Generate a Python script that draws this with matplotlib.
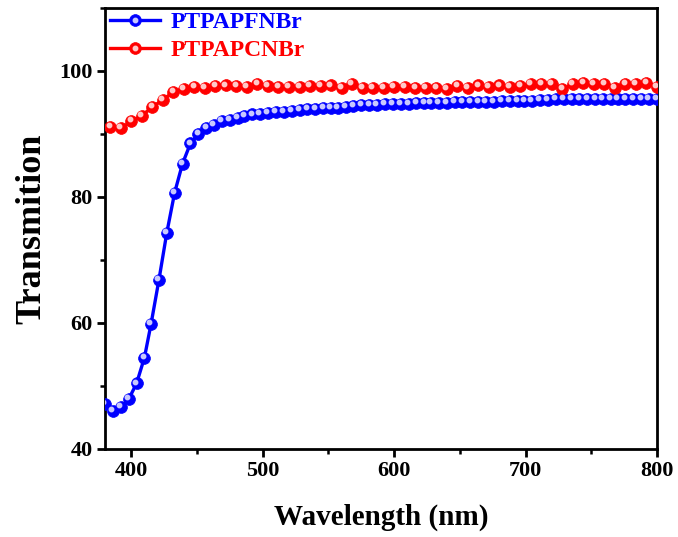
import matplotlib
matplotlib.use("Agg")
import matplotlib.pyplot as plt
import matplotlib.transforms as mtransforms
from matplotlib.legend_handler import HandlerTuple
from matplotlib.ticker import MultipleLocator

# ---- data ----
wl_pf = [380, 386, 392, 398, 404, 410, 415, 421, 427, 433, 439, 445, 451, 457, 463, 469,
         475, 481, 486, 492, 498, 504, 510, 516, 522, 528, 534, 540, 546, 552, 557, 563,
         569, 575, 581, 587, 593, 599, 605, 611, 617, 623, 628, 634, 640, 646, 652, 658,
         664, 670, 676, 682, 688, 694, 699, 705, 711, 717, 723, 729, 735, 741, 747, 753,
         759, 765, 770, 776, 782, 788, 794, 800]
t_pf = [47.1, 46.1, 46.6, 47.9, 50.4, 54.5, 59.8, 66.8, 74.3, 80.7, 85.3, 88.5, 90.0, 90.9,
        91.5, 92.1, 92.3, 92.6, 92.9, 93.1, 93.2, 93.4, 93.5, 93.5, 93.7, 93.8, 93.9, 94.0,
        94.1, 94.2, 94.1, 94.3, 94.4, 94.55, 94.55, 94.6, 94.8, 94.8, 94.8, 94.8, 95.0, 95.0,
        95.0, 95.0, 95.0, 95.1, 95.1, 95.1, 95.1, 95.1, 95.1, 95.3, 95.3, 95.3, 95.3, 95.3,
        95.4, 95.4, 95.5, 95.5, 95.5, 95.5, 95.5, 95.5, 95.5, 95.5, 95.6, 95.6, 95.5, 95.6,
        95.6, 95.6]

wl_pc = [384, 392, 400, 408, 416, 424, 432, 440, 448, 456, 464, 472, 480, 488, 496, 504,
         512, 520, 528, 536, 544, 552, 560, 568, 576, 584, 592, 600, 608, 616, 624, 632,
         640, 648, 656, 664, 672, 680, 688, 696, 704, 712, 720, 728, 736, 744, 752, 760,
         768, 776, 784, 792, 800]
t_pc = [91.1, 90.9, 92.0, 92.9, 94.3, 95.4, 96.7, 97.2, 97.5, 97.3, 97.6, 97.7, 97.6, 97.5,
        97.9, 97.6, 97.5, 97.5, 97.5, 97.6, 97.6, 97.7, 97.35, 97.9, 97.35, 97.35, 97.35,
        97.5, 97.5, 97.35, 97.35, 97.35, 97.2, 97.6, 97.35, 97.7, 97.5, 97.7, 97.5, 97.6,
        97.9, 98.0, 97.9, 97.1, 97.9, 98.1, 97.9, 98.0, 97.35, 98.0, 97.9, 98.1, 97.5]

labels = ["PTPAPFNBr", "PTPAPCNBr"]
colors = ["#0000ff", "#ff0000"]
highlights = ["#c8c8ff", "#ffc8c8"]
x_ticks = [400, 500, 600, 700, 800]
y_ticks = [40, 60, 80, 100]

serif = ["Liberation Serif", "DejaVu Serif"]
plt.rcParams["font.family"] = serif
plt.rcParams["font.weight"] = "bold"

fig = plt.figure(figsize=(6.78, 5.37), dpi=100)
ax = fig.add_axes([105 / 678, 88 / 537, 552 / 678, 441 / 537])

handles = []
for wl, t, c, h, lab in [(wl_pf, t_pf, colors[0], highlights[0], labels[0]),
                         (wl_pc, t_pc, colors[1], highlights[1], labels[1])]:
    ln, = ax.plot(wl, t, "-", color=c, lw=2.4, marker="o", ms=8.5,
                  mfc=c, mec=c, mew=0.5, zorder=3)
    off = mtransforms.offset_copy(ax.transData, fig=fig, x=-1.2, y=1.4, units="points")
    hl, = ax.plot(wl, t, linestyle="none", marker="o", ms=3.2, mfc=h, mec=h,
                  transform=off, zorder=4)
    handles.append((ln, hl))

ax.set_xlim(380, 800)
ax.set_ylim(40, 110)
ax.set_xticks(x_ticks)
ax.set_yticks(y_ticks)
ax.xaxis.set_minor_locator(MultipleLocator(50))
ax.yaxis.set_minor_locator(MultipleLocator(10))

for s in ax.spines.values():
    s.set_linewidth(2.0)
ax.tick_params(which="major", direction="out", length=6, width=2.0,
               labelsize=16, pad=3)
ax.tick_params(which="minor", direction="out", length=3.5, width=1.8)
for lbl in ax.get_xticklabels() + ax.get_yticklabels():
    lbl.set_fontweight("bold")

ax.set_xlabel("Wavelength (nm)", fontsize=21, fontweight="bold", labelpad=16)
ax.set_ylabel("Transmition", fontsize=26, fontweight="bold", labelpad=8)

leg = ax.legend(handles, labels, handler_map={tuple: HandlerTuple(ndivide=1)},
                loc="upper left", bbox_to_anchor=(-0.02, 1.03), frameon=False,
                prop={"family": serif, "weight": "bold", "size": 17},
                handlelength=2.1, handletextpad=0.45, labelspacing=0.3,
                borderaxespad=0.3)
for txt, c in zip(leg.get_texts(), colors):
    txt.set_color(c)

fig.savefig("out.png", dpi=100)
